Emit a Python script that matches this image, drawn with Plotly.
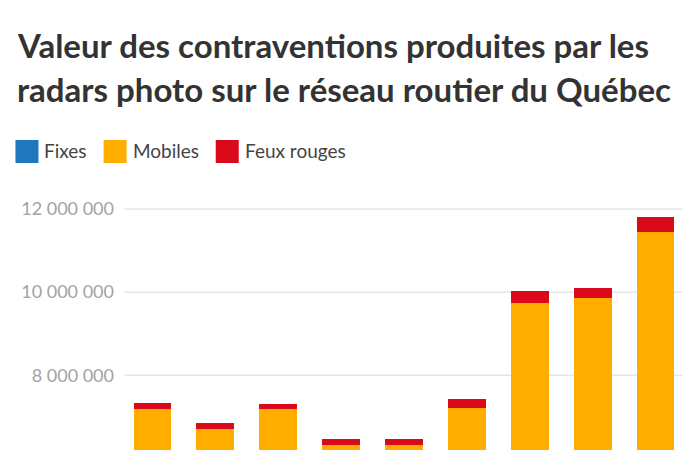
import plotly.graph_objects as go

# ---- data (Fixes hidden below the visible area, estimated) ----
periods = ["2010", "2011", "2012", "2013", "2014", "2015", "2016", "2017", "2018"]
fixes = [3000000, 2900000, 3050000, 2800000, 2750000, 2950000, 3200000, 3300000, 3500000]
mobiles_top = [7190000, 6709000, 7190000, 6324000, 6324000, 7214000, 9743000, 9848000, 11440000]
mobiles = [t - f for t, f in zip(mobiles_top, fixes)]
feux_rouges = [137000, 137000, 120000, 144000, 144000, 209000, 288000, 241000, 360000]
series_names = ["Fixes", "Mobiles", "Feux rouges"]
colors = ["#1F78BD", "#FFAE00", "#DA0A1B"]
tick_vals = [8000000, 10000000, 12000000]
tick_text = ["8 000 000", "10 000 000", "12 000 000"]
title_lines = ["Valeur des contraventions produites par les",
               "radars photo sur le réseau routier du Québec"]

W, H = 700, 450
PL, PR = 121.4, 686.6   # plot area in pixels
PT, PB = 195.0, 450.0
Y8, PXM = 375.3, 41.58   # pixel of 8M, pixels per million
y_lo = 8e6 - (PB - Y8) / PXM * 1e6
y_hi = 8e6 + (Y8 - PT) / PXM * 1e6


def xp(px):
    return (px - PL) / (PR - PL)


def yp(py):
    return (PB - py) / (PB - PT)


fig = go.Figure()
for name, vals, col in zip(series_names, [fixes, mobiles, feux_rouges], colors):
    fig.add_trace(go.Bar(x=periods, y=vals, name=name, marker=dict(color=col, line=dict(width=0)),
                         showlegend=False))

shapes = []
for tv in tick_vals:
    shapes.append(dict(type="line", xref="paper", yref="y", x0=xp(125), x1=xp(682), y0=tv, y1=tv,
                       line=dict(color="#E6E6E6", width=1.5), layer="below"))

annotations = []
font_title = "Lato, 'Open Sans', sans-serif"
for i, line in enumerate(title_lines):
    baseline = 56 + 44 * i
    annotations.append(dict(text="<b>" + line + "</b>", xref="paper", yref="paper",
                            x=xp(16), y=yp(baseline - 11), xanchor="left", yanchor="middle",
                            showarrow=False, font=dict(family=font_title, size=33, color="#333333")))

leg_rects = [16, 104, 216]
leg_text_x = [45, 133, 245]
for name, col, rx, tx in zip(series_names, colors, leg_rects, leg_text_x):
    shapes.append(dict(type="rect", xref="paper", yref="paper", x0=xp(rx), x1=xp(rx + 23),
                       y0=yp(163), y1=yp(140), fillcolor=col, line=dict(width=0)))
    annotations.append(dict(text=name, xref="paper", yref="paper", x=xp(tx - 2), y=yp(150.5),
                            xanchor="left", yanchor="middle", showarrow=False,
                            font=dict(family=font_title, size=19, color="#444444")))

fig.update_layout(
    width=W, height=H,
    margin=dict(l=PL, r=W - PR, t=PT, b=0, pad=0),
    barmode="stack", bargap=0.40,
    plot_bgcolor="white", paper_bgcolor="white",
    shapes=shapes, annotations=annotations,
    xaxis=dict(showticklabels=False, showgrid=False, zeroline=False, showline=False, ticks=""),
    yaxis=dict(range=[y_lo, y_hi], tickvals=tick_vals, ticktext=tick_text, showgrid=False,
               zeroline=False, showline=False, ticks="", ticklabelstandoff=6,
               tickfont=dict(family=font_title, size=18, color="#A3A3A3")),
)

fig.write_html("out.html")
